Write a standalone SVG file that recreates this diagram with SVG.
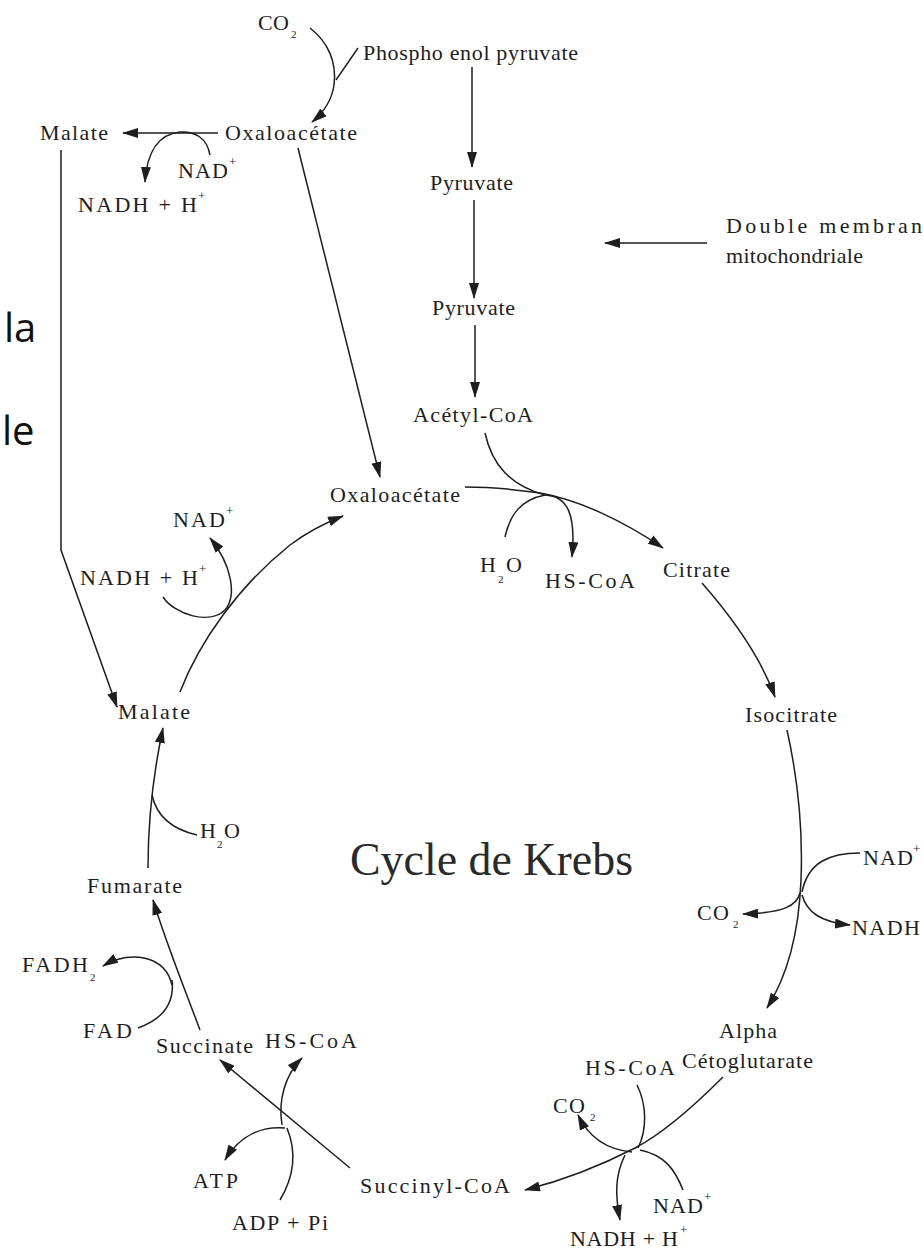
<svg xmlns="http://www.w3.org/2000/svg" width="923" height="1252" viewBox="0 0 923 1252">
<style>
  .t { font-family: "Liberation Serif", "DejaVu Serif", serif; font-size: 22px; fill: #1e1e1e; }
  .s { font-family: "Liberation Serif", "DejaVu Serif", serif; font-size: 11px; fill: #1e1e1e; }
  .p { font-family: "Liberation Serif", "DejaVu Serif", serif; font-size: 13px; fill: #1e1e1e; }
  .big { font-family: "Open Sans", "Liberation Sans", sans-serif; font-size: 40px; fill: #111; }
  .title { font-family: "Liberation Serif", "DejaVu Serif", serif; font-size: 46px; fill: #2a2a2a; }
  .c { fill: none; stroke: #1e1e1e; stroke-width: 1.5; }
  .a { marker-end: url(#ah); }
</style>
<defs>
  <marker id="ah" viewBox="0 0 16 10" refX="15" refY="5" markerWidth="16" markerHeight="10" markerUnits="userSpaceOnUse" orient="auto">
    <path d="M0,0 L16,5 L0,10 Z" fill="#1e1e1e"/>
  </marker>
</defs>
<rect width="923" height="1252" fill="#ffffff"/>

<g id="connectors">
  <path class="c a" d="M310,28 C328,42 337,62 334,85 C332,100 324,112 312,122"/>
  <path class="c" d="M358,48 L336,80"/>
  <path class="c a" d="M218,133 L123,133"/>
  <path class="c a" d="M210,155 C207,138 195,131 180,132 C160,134 147,150 145,182"/>
  <path class="c a" d="M61,150 L61,550 L117,707"/>
  <path class="c a" d="M298,148 L380,477"/>
  <path class="c a" d="M472,67 L472,167"/>
  <path class="c a" d="M474,200 L474,298"/>
  <path class="c a" d="M475,325 L475,397"/>
  <path class="c a" d="M707,243 L605,243"/>
  <path class="c a" d="M465,487 C490,487 512,489 540,493 C580,500 625,522 663,548"/>
  <path class="c" d="M485,433 C492,465 510,485 545,495"/>
  <path class="c" d="M505,537 C510,515 520,500 545,495"/>
  <path class="c a" d="M545,495 C568,496 576,515 572,557"/>
  <path class="c a" d="M702,583 C730,615 760,655 775,697"/>
  <path class="c a" d="M787,730 C797,775 803,830 801,880 C799,930 788,975 767,1008"/>
  <path class="c" d="M860,853 C830,853 808,862 802,892"/>
  <path class="c a" d="M800,893 C797,905 785,913 743,914"/>
  <path class="c a" d="M802,895 C807,912 820,922 850,925"/>
  <path class="c a" d="M723,1077 C690,1110 660,1135 635,1148 C600,1166 565,1180 525,1190"/>
  <path class="c" d="M637,1085 C647,1105 647,1130 638,1148"/>
  <path class="c a" d="M632,1152 C610,1150 590,1140 578,1115"/>
  <path class="c a" d="M625,1155 C615,1175 615,1195 620,1220"/>
  <path class="c" d="M683,1190 C675,1170 665,1155 640,1150"/>
  <path class="c a" d="M350,1168 L220,1060"/>
  <path class="c a" d="M282,1125 C278,1100 285,1075 302,1058"/>
  <path class="c a" d="M285,1128 C262,1126 240,1135 225,1160"/>
  <path class="c" d="M280,1200 C292,1180 298,1155 287,1128"/>
  <path class="c a" d="M200,1030 C185,990 165,940 153,900"/>
  <path class="c a" d="M172,985 C165,955 130,950 103,966"/>
  <path class="c" d="M138,1028 C160,1020 175,1005 172,980"/>
  <path class="c a" d="M148,868 C148,820 154,770 163,728"/>
  <path class="c" d="M197,835 C175,830 157,818 152,795"/>
  <path class="c a" d="M180,692 C200,640 240,585 290,545 C310,530 325,523 343,516"/>
  <path class="c a" d="M163,597 C175,615 210,625 225,610 C237,596 232,565 210,538"/>
</g>

<g id="co2-top"><text class="t" x="258" y="30" textLength="31" lengthAdjust="spacing">CO</text><text class="s" x="291" y="38">2</text></g>
<g id="phosphoenolpyruvate"><text class="t" x="363" y="60" textLength="215" lengthAdjust="spacing">Phospho enol pyruvate</text></g>
<g id="malate-top"><text class="t" x="40" y="140" textLength="68" lengthAdjust="spacing">Malate</text></g>
<g id="oxaloacetate-top"><text class="t" x="225" y="140" textLength="132" lengthAdjust="spacing">Oxaloacétate</text></g>
<g id="nad-top"><text class="t" x="178" y="178" textLength="50" lengthAdjust="spacing">NAD</text><text class="p" x="229" y="166">+</text></g>
<g id="nadh-top"><text class="t" x="78" y="212" textLength="119" lengthAdjust="spacing">NADH + H</text><text class="p" x="198" y="200">+</text></g>
<g id="pyruvate-1"><text class="t" x="430" y="190" textLength="83" lengthAdjust="spacing">Pyruvate</text></g>
<g id="membrane-label"><text class="t" x="726" y="233" textLength="196" lengthAdjust="spacing">Double membran</text><text class="t" x="726" y="263" textLength="137" lengthAdjust="spacing">mitochondriale</text></g>
<g id="pyruvate-2"><text class="t" x="432" y="315" textLength="83" lengthAdjust="spacing">Pyruvate</text></g>
<g id="acetyl-coa"><text class="t" x="413" y="422" textLength="120" lengthAdjust="spacing">Acétyl-CoA</text></g>
<g id="side-text"><text class="big" x="4" y="342">la</text><text class="big" x="2" y="445">le</text></g>

<g id="oxaloacetate"><text class="t" x="330" y="502" textLength="130" lengthAdjust="spacing">Oxaloacétate</text></g>
<g id="nad-malox"><text class="t" x="173" y="527" textLength="52" lengthAdjust="spacing">NAD</text><text class="p" x="226" y="515">+</text></g>
<g id="nadh-malox"><text class="t" x="80" y="585" textLength="118" lengthAdjust="spacing">NADH + H</text><text class="p" x="199" y="573">+</text></g>
<g id="h2o-citrate"><text class="t" x="480" y="572">H</text><text class="s" x="498" y="583">2</text><text class="t" x="506" y="572">O</text></g>
<g id="hscoa-citrate"><text class="t" x="545" y="588" textLength="90" lengthAdjust="spacing">HS-CoA</text></g>
<g id="citrate"><text class="t" x="663" y="577" textLength="67" lengthAdjust="spacing">Citrate</text></g>
<g id="isocitrate"><text class="t" x="745" y="722" textLength="92" lengthAdjust="spacing">Isocitrate</text></g>
<g id="title"><text class="title" x="350" y="875" textLength="283" lengthAdjust="spacingAndGlyphs">Cycle de Krebs</text></g>
<g id="nad-iso"><text class="t" x="863" y="865" textLength="50" lengthAdjust="spacing">NAD</text><text class="p" x="913" y="853">+</text></g>
<g id="co2-iso"><text class="t" x="697" y="920" textLength="32" lengthAdjust="spacing">CO</text><text class="s" x="733" y="928">2</text></g>
<g id="nadh-iso"><text class="t" x="852" y="935" textLength="68" lengthAdjust="spacing">NADH</text></g>
<g id="alpha-cetoglutarate"><text class="t" x="719" y="1038" textLength="58" lengthAdjust="spacing">Alpha</text><text class="t" x="682" y="1068" textLength="131" lengthAdjust="spacing">Cétoglutarate</text></g>
<g id="hscoa-akg"><text class="t" x="585" y="1075" textLength="90" lengthAdjust="spacing">HS-CoA</text></g>
<g id="co2-akg"><text class="t" x="553" y="1113" textLength="32" lengthAdjust="spacing">CO</text><text class="s" x="590" y="1121">2</text></g>
<g id="succinyl-coa"><text class="t" x="360" y="1193" textLength="150" lengthAdjust="spacing">Succinyl-CoA</text></g>
<g id="nad-akg"><text class="t" x="653" y="1213" textLength="50" lengthAdjust="spacing">NAD</text><text class="p" x="704" y="1201">+</text></g>
<g id="nadh-akg"><text class="t" x="570" y="1246" textLength="108" lengthAdjust="spacing">NADH + H</text><text class="p" x="680" y="1234">+</text></g>
<g id="succinate"><text class="t" x="156" y="1053" textLength="97" lengthAdjust="spacing">Succinate</text></g>
<g id="hscoa-succ"><text class="t" x="265" y="1048" textLength="92" lengthAdjust="spacing">HS-CoA</text></g>
<g id="atp"><text class="t" x="193" y="1188" textLength="45" lengthAdjust="spacing">ATP</text></g>
<g id="adp-pi"><text class="t" x="232" y="1230" textLength="96" lengthAdjust="spacing">ADP + Pi</text></g>
<g id="fadh2"><text class="t" x="22" y="972" textLength="66" lengthAdjust="spacing">FADH</text><text class="s" x="90" y="981">2</text></g>
<g id="fad"><text class="t" x="83" y="1038" textLength="49" lengthAdjust="spacing">FAD</text></g>
<g id="fumarate"><text class="t" x="87" y="893" textLength="95" lengthAdjust="spacing">Fumarate</text></g>
<g id="h2o-fum"><text class="t" x="200" y="838">H</text><text class="s" x="217" y="848">2</text><text class="t" x="224" y="838">O</text></g>
<g id="malate"><text class="t" x="118" y="719" textLength="72" lengthAdjust="spacing">Malate</text></g>
</svg>
